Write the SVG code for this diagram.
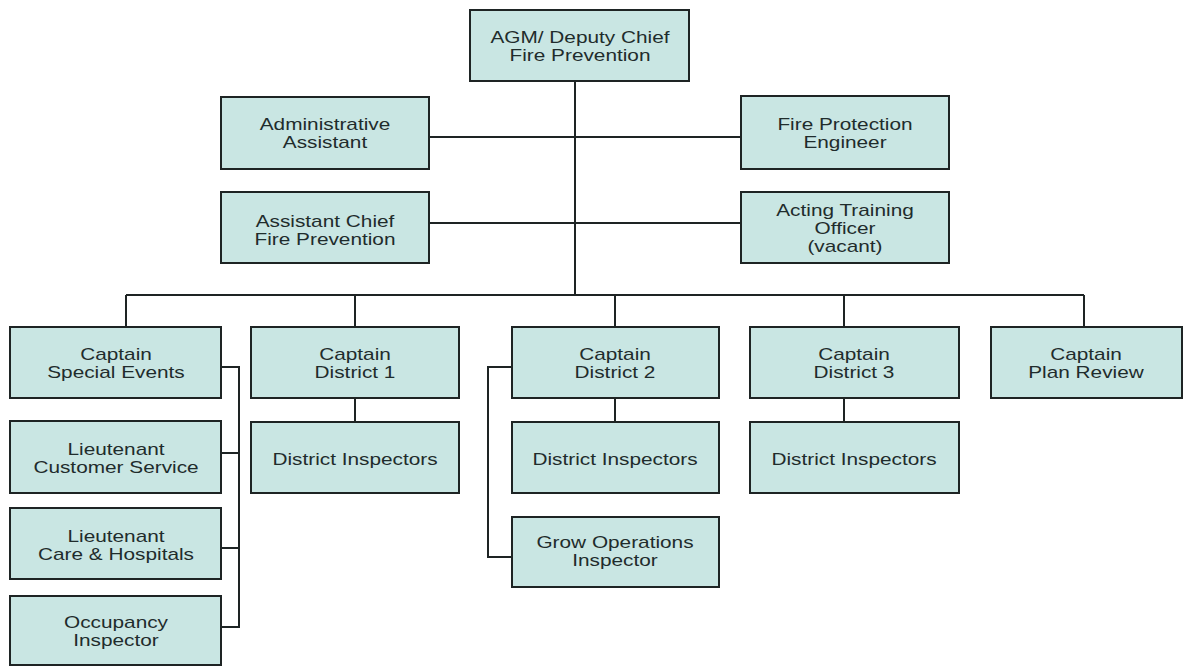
<svg xmlns="http://www.w3.org/2000/svg" width="1191" height="667" viewBox="0 0 1191 667">
<style>
.box{fill:#c9e6e3;stroke:#1e2424;stroke-width:2}
.t{font-family:"Liberation Sans",Arial,sans-serif;font-size:16px;fill:#1f2c2c;text-anchor:middle}
.c{fill:none;stroke:#1e2424;stroke-width:2}
</style>
<rect width="1191" height="667" fill="#ffffff"/>
<g id="connectors">
<path class="c" d="M575 81V295"/>
<path class="c" d="M429 137H741"/>
<path class="c" d="M429 223H741"/>
<path class="c" d="M126 295H1084"/>
<path class="c" d="M126 295V327M355 295V327M615 295V327M844 295V327M1084 295V327"/>
<path class="c" d="M355 398V422M615 398V422M844 398V422"/>
<path class="c" d="M221 367H239V627H221M221 453H239M221 548H239"/>
<path class="c" d="M512 367H488V557H512"/>
</g>
<g id="n_agm"><rect class="box" x="470" y="10" width="219" height="71"/><g transform="translate(580 0) scale(1.3 1)"><text class="t" x="0" y="43">AGM/ Deputy Chief</text><text class="t" x="0" y="61">Fire Prevention</text></g></g>
<g id="n_admin"><rect class="box" x="221" y="97" width="208" height="72"/><g transform="translate(325 0) scale(1.3 1)"><text class="t" x="0" y="130">Administrative</text><text class="t" x="0" y="148">Assistant</text></g></g>
<g id="n_fpe"><rect class="box" x="741" y="96" width="208" height="73"/><g transform="translate(845 0) scale(1.3 1)"><text class="t" x="0" y="130">Fire Protection</text><text class="t" x="0" y="148">Engineer</text></g></g>
<g id="n_asst"><rect class="box" x="221" y="192" width="208" height="71"/><g transform="translate(325 0) scale(1.3 1)"><text class="t" x="0" y="227">Assistant Chief</text><text class="t" x="0" y="245">Fire Prevention</text></g></g>
<g id="n_ato"><rect class="box" x="741" y="192" width="208" height="71"/><g transform="translate(845 0) scale(1.3 1)"><text class="t" x="0" y="216">Acting Training</text><text class="t" x="0" y="234">Officer</text><text class="t" x="0" y="252">(vacant)</text></g></g>
<g id="n_cse"><rect class="box" x="10" y="327" width="211" height="71"/><g transform="translate(116 0) scale(1.3 1)"><text class="t" x="0" y="360">Captain</text><text class="t" x="0" y="378">Special Events</text></g></g>
<g id="n_cd1"><rect class="box" x="251" y="327" width="208" height="71"/><g transform="translate(355 0) scale(1.3 1)"><text class="t" x="0" y="360">Captain</text><text class="t" x="0" y="378">District 1</text></g></g>
<g id="n_cd2"><rect class="box" x="512" y="327" width="207" height="71"/><g transform="translate(615 0) scale(1.3 1)"><text class="t" x="0" y="360">Captain</text><text class="t" x="0" y="378">District 2</text></g></g>
<g id="n_cd3"><rect class="box" x="750" y="327" width="209" height="71"/><g transform="translate(854 0) scale(1.3 1)"><text class="t" x="0" y="360">Captain</text><text class="t" x="0" y="378">District 3</text></g></g>
<g id="n_cpr"><rect class="box" x="991" y="327" width="191" height="71"/><g transform="translate(1086 0) scale(1.3 1)"><text class="t" x="0" y="360">Captain</text><text class="t" x="0" y="378">Plan Review</text></g></g>
<g id="n_lcs"><rect class="box" x="10" y="421" width="211" height="72"/><g transform="translate(116 0) scale(1.3 1)"><text class="t" x="0" y="455">Lieutenant</text><text class="t" x="0" y="473">Customer Service</text></g></g>
<g id="n_lch"><rect class="box" x="10" y="508" width="211" height="71"/><g transform="translate(116 0) scale(1.3 1)"><text class="t" x="0" y="542">Lieutenant</text><text class="t" x="0" y="560">Care &amp; Hospitals</text></g></g>
<g id="n_occ"><rect class="box" x="10" y="596" width="211" height="69"/><g transform="translate(116 0) scale(1.3 1)"><text class="t" x="0" y="628">Occupancy</text><text class="t" x="0" y="646">Inspector</text></g></g>
<g id="n_di1"><rect class="box" x="251" y="422" width="208" height="71"/><g transform="translate(355 0) scale(1.3 1)"><text class="t" x="0" y="465">District Inspectors</text></g></g>
<g id="n_di2"><rect class="box" x="512" y="422" width="207" height="71"/><g transform="translate(615 0) scale(1.3 1)"><text class="t" x="0" y="465">District Inspectors</text></g></g>
<g id="n_di3"><rect class="box" x="750" y="422" width="209" height="71"/><g transform="translate(854 0) scale(1.3 1)"><text class="t" x="0" y="465">District Inspectors</text></g></g>
<g id="n_grow"><rect class="box" x="512" y="517" width="207" height="70"/><g transform="translate(615 0) scale(1.3 1)"><text class="t" x="0" y="548">Grow Operations</text><text class="t" x="0" y="566">Inspector</text></g></g>
</svg>
